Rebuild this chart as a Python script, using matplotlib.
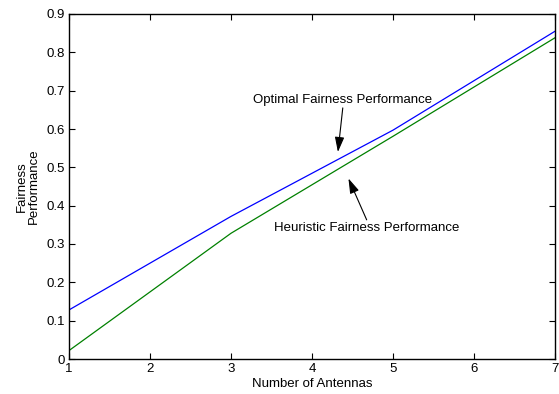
import matplotlib
matplotlib.use("Agg")
import matplotlib.pyplot as plt

antennas = [1, 3, 5, 7]
optimal = [0.128, 0.372, 0.597, 0.855]
heuristic = [0.022, 0.328, 0.581, 0.838]
xticks = [1, 2, 3, 4, 5, 6, 7]
yticks = [0, 0.1, 0.2, 0.3, 0.4, 0.5, 0.6, 0.7, 0.8, 0.9]

plt.rcParams['font.family'] = ['Liberation Sans', 'DejaVu Sans']
fs = 9.5

fig = plt.figure(figsize=(5.59, 3.94), dpi=100)
ax = fig.add_axes([69/559, 35/394, (555-69)/559, (359-14)/394])
ax.plot(antennas, optimal, color=(0, 0, 1), lw=0.9)
ax.plot(antennas, heuristic, color=(0, 0.5, 0), lw=0.9)

ax.set_xlim(1, 7)
ax.set_ylim(0, 0.9)
ax.set_xticks(xticks)
ax.set_yticks(yticks)
ax.set_xticklabels([str(t) for t in xticks])
ax.set_yticklabels(['0'] + ['%.1f' % t for t in yticks[1:]])
ax.tick_params(direction='in', top=True, right=True, length=4, width=0.8,
               labelsize=fs, colors='k', pad=3)
for s in ax.spines.values():
    s.set_linewidth(1.0)

ax.set_xlabel('Number of Antennas', fontsize=fs, labelpad=2)
ax.set_ylabel('Fairness\nPerformance', fontsize=fs, labelpad=5, linespacing=1.0)

arrow = dict(arrowstyle='-|>,head_width=0.22,head_length=0.7', color='k',
             lw=0.8, shrinkA=0, shrinkB=0, mutation_scale=13)
ax.text(4.38, 0.676, 'Optimal Fairness Performance', ha='center', va='center',
        fontsize=fs)
ax.annotate('', xy=(4.32, 0.54), xytext=(4.38, 0.655), arrowprops=arrow)
ax.text(4.68, 0.342, 'Heuristic Fairness Performance', ha='center', va='center',
        fontsize=fs)
ax.annotate('', xy=(4.45, 0.471), xytext=(4.675, 0.363), arrowprops=arrow)

fig.savefig('out.png', dpi=100)
